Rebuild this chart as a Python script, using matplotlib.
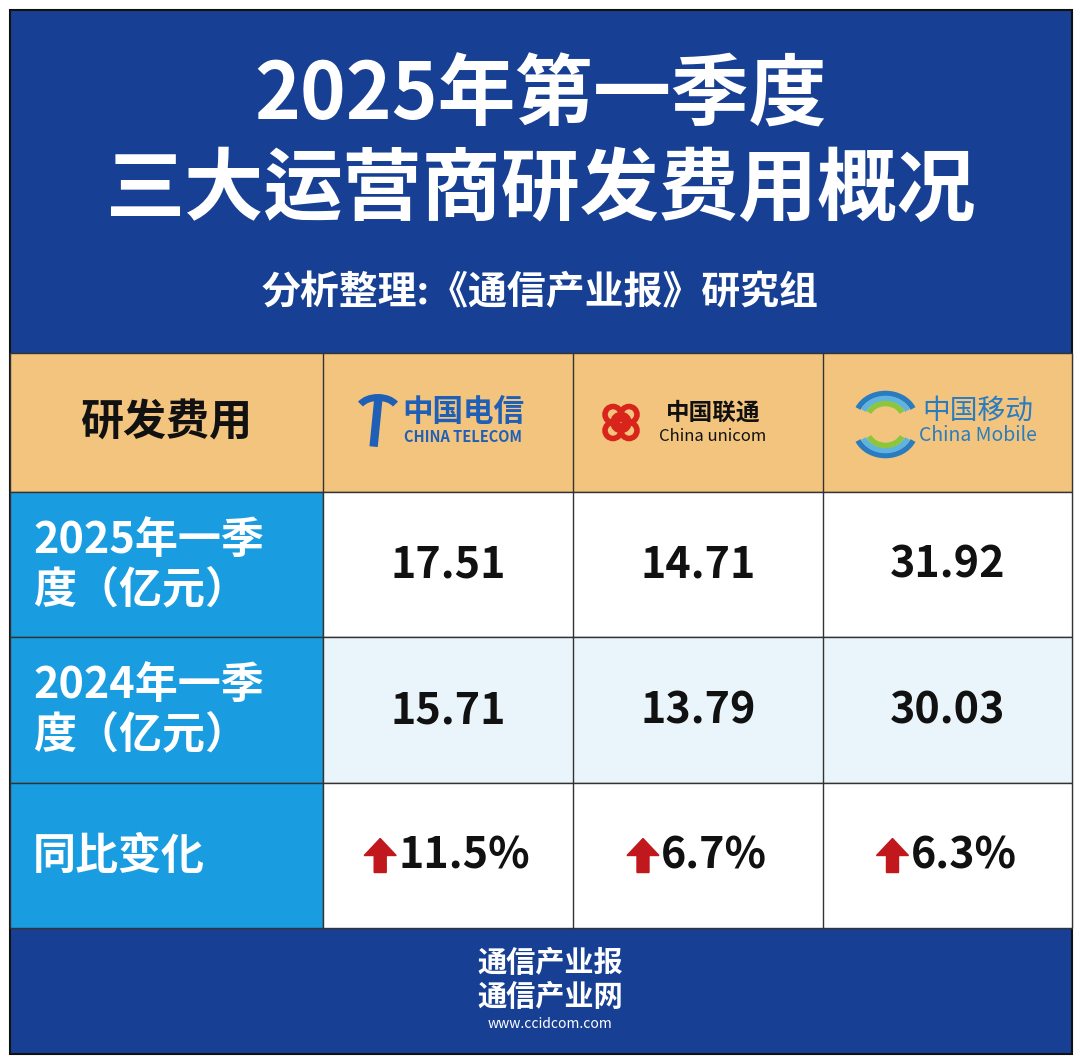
import matplotlib
matplotlib.use("Agg")
import matplotlib.pyplot as plt
from matplotlib import font_manager as fm
from matplotlib.patches import Rectangle, Polygon, Circle, Arc

cjk = [f for f in fm.fontManager.ttflist if "CJK" in f.name]
names = []
for pref in ["Noto Sans CJK SC", "Noto Sans CJK JP", "Noto Sans CJK TC", "Noto Sans CJK KR"]:
    if any(f.name == pref for f in cjk):
        names.append(pref)
for f in cjk:
    if f.name not in names:
        names.append(f.name)
plt.rcParams["font.family"] = names + ["DejaVu Sans"]

title_lines = ["2025年第一季度", "三大运营商研发费用概况"]
subtitle = "分析整理:《通信产业报》研究组"
header_label = "研发费用"
operators = ["中国电信", "中国联通", "中国移动"]
operators_en = ["CHINA TELECOM", "China unicom", "China Mobile"]
row_labels = ["2025年一季\n度（亿元）", "2024年一季\n度（亿元）", "同比变化"]
q1_2025 = [17.51, 14.71, 31.92]
q1_2024 = [15.71, 13.79, 30.03]
yoy_change = ["11.5%", "6.7%", "6.3%"]
footer = ["通信产业报", "通信产业网", "www.ccidcom.com"]

W, H = 1080, 1062
fig = plt.figure(figsize=(W/100, H/100), dpi=100)
ax = fig.add_axes([0, 0, 1, 1])
ax.set_xlim(0, W); ax.set_ylim(H, 0); ax.axis("off")

navy = "#173f94"
orange = "#f2c47d"
cyan = "#1a9de0"
line = "#333333"

ax.add_patch(Rectangle((0, 0), W, H, color="white"))
ax.add_patch(Rectangle((10, 10), 1062, 1044, facecolor=navy, edgecolor="#111111", lw=1.5))

ax.text(540, 97, title_lines[0], color="white", fontsize=56, fontweight="heavy", ha="center", va="center")
ax.text(540, 190, title_lines[1], color="white", fontsize=57, fontweight="heavy", ha="center", va="center")
ax.text(540, 293, subtitle, color="white", fontsize=28, fontweight="bold", ha="center", va="center")

xs = [10, 323, 573, 823, 1072]
ys = [353, 492, 637, 783, 928]

ax.add_patch(Rectangle((xs[0], ys[0]), xs[-1]-xs[0], ys[1]-ys[0], facecolor=orange, edgecolor=line, lw=1))
for x in xs[1:-1]:
    ax.plot([x, x], [ys[0], ys[1]], color=line, lw=1)
ax.text((xs[0]+xs[1])/2, (ys[0]+ys[1])/2, header_label, fontsize=31, fontweight="bold", ha="center", va="center", color="#111111")

for i in range(3):
    cx = (xs[i+1]+xs[i+2])/2
    cy = (ys[0]+ys[1])/2
    if i == 0:
        ax.add_patch(Arc((cx-70, cy-12), 40, 26, theta1=200, theta2=340, color="#1f5fb5", lw=5))
        ax.plot([cx-70, cx-74], [cy-20, cy+20], color="#1f5fb5", lw=6)
        ax.text(cx+15, cy-10, operators[0], fontsize=22, fontweight="bold", color="#1f5fb5", ha="center", va="center")
        ax.text(cx+15, cy+15, operators_en[0], fontsize=10.5, fontweight="bold", color="#1f5fb5", ha="center", va="center")
    elif i == 1:
        for dx, dy in [(-8, -8), (8, -8), (-8, 8), (8, 8), (0, 0)]:
            ax.add_patch(Circle((cx-77+dx, cy+dy), 8, fill=False, edgecolor="#d9241b", lw=4))
        ax.text(cx+15, cy-10, operators[1], fontsize=17, fontweight="bold", color="#111111", ha="center", va="center")
        ax.text(cx+15, cy+14, operators_en[1], fontsize=12, color="#111111", ha="center", va="center")
    else:
        for k, c in enumerate(["#2a7cc0", "#5fb3e0", "#8cc63f"]):
            ax.add_patch(Arc((cx-62, cy+8), 60-12*k, 50-10*k, theta1=20, theta2=160, color=c, lw=4))
            ax.add_patch(Arc((cx-62, cy-4), 60-12*k, 50-10*k, theta1=200, theta2=340, color=c, lw=4))
        ax.text(cx+30, cy-12, operators[2], fontsize=20, color="#2a7cc0", ha="center", va="center")
        ax.text(cx+30, cy+13, operators_en[2], fontsize=14, color="#2a7cc0", ha="center", va="center")

rows = [[f"{v:.2f}" for v in q1_2025], [f"{v:.2f}" for v in q1_2024], yoy_change]
fills = ["white", "#eaf4fb", "white"]
for r in range(3):
    y0, y1 = ys[r+1], ys[r+2]
    ax.add_patch(Rectangle((xs[0], y0), xs[1]-xs[0], y1-y0, facecolor=cyan, edgecolor=line, lw=1))
    ax.add_patch(Rectangle((xs[1], y0), xs[-1]-xs[1], y1-y0, facecolor=fills[r], edgecolor=line, lw=1))
    for x in xs[2:-1]:
        ax.plot([x, x], [y0, y1], color=line, lw=1)
    ym = (y0+y1)/2
    ax.text(33, ym, row_labels[r], fontsize=31, fontweight="bold", color="white", ha="left", va="center", linespacing=1.15)
    for c in range(3):
        cx = (xs[c+1]+xs[c+2])/2
        if r < 2:
            ax.text(cx, ym, rows[r][c], fontsize=31, fontweight="bold", color="#111111", ha="center", va="center")
        else:
            t = ax.text(cx+16, ym, rows[r][c], fontsize=31, fontweight="bold", color="#111111", ha="center", va="center")
            fig.canvas.draw()
            bb = t.get_window_extent()
            a = bb.x0 - 18
            ax.add_patch(Polygon([[a-16, ym], [a, ym-17], [a+16, ym], [a+6, ym], [a+6, ym+17], [a-6, ym+17], [a-6, ym]],
                                 closed=True, color="#c0181c"))

ax.text(550, 963, footer[0], fontsize=21, fontweight="heavy", color="white", ha="center", va="center")
ax.text(550, 997, footer[1], fontsize=21, fontweight="heavy", color="white", ha="center", va="center")
ax.text(550, 1024, footer[2], fontsize=10, color="white", ha="center", va="center")

fig.savefig("out.png", dpi=100)
